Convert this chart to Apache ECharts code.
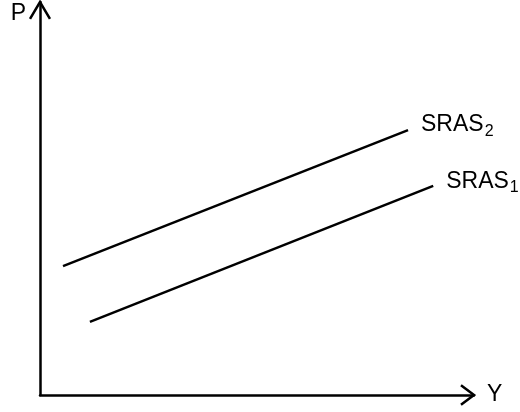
<!DOCTYPE html>
<html>
<head>
<meta charset="utf-8">
<script src="https://cdn.jsdelivr.net/npm/echarts@6/dist/echarts.min.js"></script>
<style>html,body{margin:0;padding:0;background:#fff;}#c{width:520px;height:412px;}</style>
</head>
<body>
<div id="c"></div>
<script>
// Axis ranges (abstract units)
const xRange = [0, 100];
const yRange = [0, 100];
// Curves: [x, y] endpoints
const sras1X = [11.5, 90.6];
const sras1Y = [18.6, 53.2];
const sras2X = [5.3, 84.8];
const sras2Y = [32.8, 67.4];
const seriesNames = ['SRAS', 'SRAS'];
const seriesSubs = ['1', '2'];
const axisNames = ['Y', 'P'];
// Arrowheads (data units)
const yArrowX = [-2.3, 0, 2.3];
const yArrowY = [95.7, 100, 95.7];
const xArrowX = [97, 100, 97];
const xArrowY = [2.5, 0, -2.5];

const FONT = "'Liberation Sans', Arial, sans-serif";
const zip = (a, b) => a.map((v, i) => [v, b[i]]);
const rich = {
  a: { fontSize: 23, fontFamily: FONT, color: '#000' },
  b: { fontSize: 16, fontFamily: FONT, color: '#000', padding: [12, 0, 0, 1] }
};
function curve(xs, ys, idx, offY) {
  return { type: 'line', data: zip(xs, ys), symbol: 'none', showSymbol: false, silent: true, clip: false,
    lineStyle: { color: '#000', width: 2.5 },
    endLabel: { show: true, distance: 13, offset: [0, offY],
      formatter: '{a|' + seriesNames[idx] + '}{b|' + seriesSubs[idx] + '}', rich: rich } };
}
const chart = echarts.init(document.getElementById('c'), null, { renderer: 'canvas' });
chart.setOption({
  animation: false,
  backgroundColor: '#fff',
  grid: { left: 40, right: 46, top: 2, bottom: 17 },
  xAxis: { type: 'value', min: xRange[0], max: xRange[1],
    axisLine: { show: true, onZero: false, lineStyle: { color: '#000', width: 2.5 } },
    axisTick: { show: false }, axisLabel: { show: false }, splitLine: { show: false },
    name: axisNames[0], nameLocation: 'end', nameGap: 13,
    nameTextStyle: { fontSize: 23, fontFamily: FONT, color: '#000', padding: [0, 0, 4, 0] } },
  yAxis: { type: 'value', min: yRange[0], max: yRange[1],
    axisLine: { show: true, onZero: false, lineStyle: { color: '#000', width: 2.5 } },
    axisTick: { show: false }, axisLabel: { show: false }, splitLine: { show: false },
    name: axisNames[1], nameLocation: 'end', nameGap: 0,
    nameTextStyle: { fontSize: 23, fontFamily: FONT, color: '#000', align: 'right', verticalAlign: 'top', padding: [0, 14, 0, 0] } },
  series: [
    curve(sras1X, sras1Y, 0, -4),
    curve(sras2X, sras2Y, 1, -5)
  ]
});
function arrowGraphic(xs, ys) {
  const pts = zip(xs, ys).map(p => chart.convertToPixel({ gridIndex: 0 }, p));
  return { type: 'polyline', silent: true, shape: { points: pts },
    style: { stroke: '#000', lineWidth: 2.5, fill: null } };
}
chart.setOption({ graphic: [arrowGraphic(yArrowX, yArrowY), arrowGraphic(xArrowX, xArrowY)] });
</script>
</body>
</html>
